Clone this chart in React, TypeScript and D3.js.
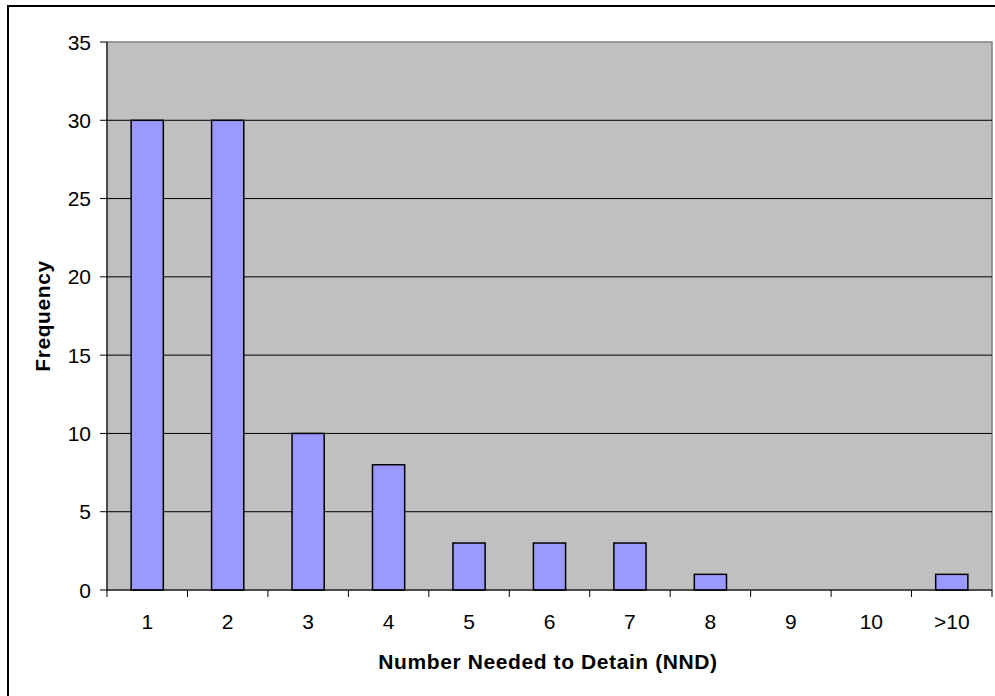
import React from "react";
import * as d3 from "d3";

const categories = ["1", "2", "3", "4", "5", "6", "7", "8", "9", "10", ">10"];
const frequencies = [30, 30, 10, 8, 3, 3, 3, 1, 0, 0, 1];
const yTicks = [0, 5, 10, 15, 20, 25, 30, 35];

const W = 995;
const H = 696;
const plot = { left: 107, right: 992, top: 42, bottom: 590 };
const FONT = "Arial, 'Liberation Sans', Helvetica, sans-serif";

export default function App() {
  const x = d3
    .scaleBand<string>()
    .domain(categories)
    .range([plot.left, plot.right])
    .paddingInner(0.6)
    .paddingOuter(0.3);
  const band = d3.scaleBand<string>().domain(categories).range([plot.left, plot.right]);
  const y = d3.scaleLinear().domain([0, 35]).range([plot.bottom, plot.top]);

  return (
    <svg
      width={W}
      height={H}
      style={{ position: "absolute", left: 0, top: 0, display: "block" }}
      fontFamily={FONT}
    >
      <rect x={0} y={0} width={W} height={H} fill="#fff" />
      {/* chart frame */}
      <rect x={8} y={6} width={W + 10} height={H + 10} fill="none" stroke="#000" strokeWidth={2} />

      {/* plot area */}
      <rect
        x={plot.left}
        y={plot.top}
        width={plot.right - plot.left}
        height={plot.bottom - plot.top}
        fill="#C0C0C0"
        stroke="#808080"
        strokeWidth={1.5}
      />

      {/* gridlines */}
      {yTicks.slice(1, -1).map((t) => (
        <line key={t} x1={plot.left} x2={plot.right} y1={y(t)} y2={y(t)} stroke="#000" strokeWidth={1} />
      ))}

      {/* bars */}
      {categories.map((c, i) =>
        frequencies[i] > 0 ? (
          <rect
            key={c}
            x={x(c)!}
            y={y(frequencies[i])}
            width={x.bandwidth()}
            height={y(0) - y(frequencies[i])}
            fill="#9999FF"
            stroke="#000"
            strokeWidth={1.5}
          />
        ) : null
      )}

      {/* y axis */}
      <line x1={plot.left} x2={plot.left} y1={plot.top} y2={plot.bottom} stroke="#000" strokeWidth={1} />
      {yTicks.map((t) => (
        <g key={t}>
          <line x1={plot.left - 7} x2={plot.left} y1={y(t)} y2={y(t)} stroke="#000" strokeWidth={1} />
          <text x={91} y={y(t)} dy="0.36em" textAnchor="end" fontSize={21} fill="#000">
            {t}
          </text>
        </g>
      ))}

      {/* x axis */}
      <line x1={plot.left} x2={plot.right} y1={plot.bottom} y2={plot.bottom} stroke="#000" strokeWidth={1} />
      {[...categories.map((c) => band(c)!), plot.right].map((px, i) => (
        <line key={i} x1={px} x2={px} y1={plot.bottom} y2={plot.bottom + 7} stroke="#000" strokeWidth={1} />
      ))}
      {categories.map((c) => (
        <text
          key={c}
          x={band(c)! + band.bandwidth() / 2}
          y={629}
          textAnchor="middle"
          fontSize={21}
          fill="#000"
        >
          {c}
        </text>
      ))}

      {/* axis titles */}
      <text
        x={548}
        y={669}
        textAnchor="middle"
        fontSize={21}
        fontWeight="bold"
        letterSpacing={0.6}
        fill="#000"
      >
        Number Needed to Detain (NND)
      </text>
      <text
        transform={`translate(50, ${(plot.top + plot.bottom) / 2}) rotate(-90)`}
        textAnchor="middle"
        fontSize={21}
        fontWeight="bold"
        letterSpacing={0.6}
        fill="#000"
      >
        Frequency
      </text>
    </svg>
  );
}
